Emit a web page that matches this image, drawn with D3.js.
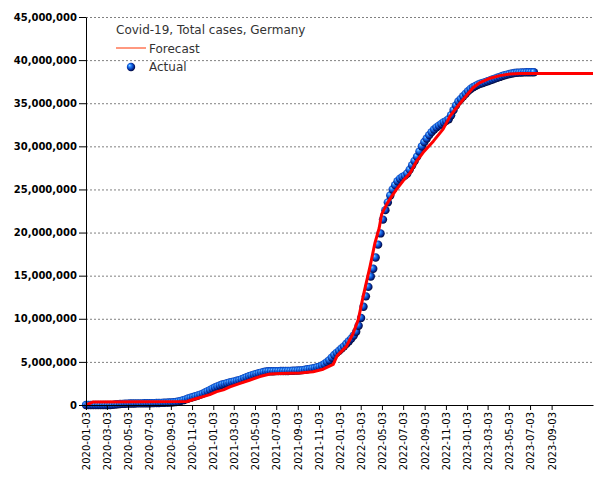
<!DOCTYPE html>
<html><head><meta charset="utf-8">
<script src="https://cdn.jsdelivr.net/npm/d3@7"></script>
<style>body{margin:0;background:#fff}svg{display:block}</style>
</head><body><svg id="c" width="605" height="480"></svg>
<script>
// ---- data ----
const actualStart = "2020-01-03";   // weekly observations
const actualValues = [
 0,0,0,0,0,0,0,0,0,1000,
 5000,20000,50000,80000,110000,130000,150000,160000,170000,175000,
 180000,185000,188000,192000,196000,200000,205000,212000,220000,230000,
 240000,250000,260000,270000,285000,300000,320000,350000,400000,480000,
 560000,650000,750000,850000,930000,1010000,1100000,1200000,1320000,1450000,
 1600000,1750000,1900000,2030000,2150000,2270000,2370000,2450000,2530000,2610000,
 2680000,2740000,2810000,2890000,2990000,3100000,3220000,3330000,3430000,3520000,
 3600000,3680000,3760000,3820000,3880000,3910000,3920000,3920000,3930000,3930000,
 3935000,3940000,3945000,3950000,3960000,3970000,3985000,4000000,4020000,4050000,
 4090000,4140000,4190000,4240000,4300000,4370000,4450000,4580000,4750000,4970000,
 5200000,5500000,5800000,6050000,6300000,6550000,6800000,7100000,7400000,7700000,
 8050000,8500000,9200000,10100000,11400000,12600000,13700000,14900000,15800000,17100000,
 18600000,19900000,21500000,22600000,23500000,24300000,25000000,25500000,25950000,26250000,
 26450000,26600000,26850000,27300000,27800000,28300000,28800000,29400000,30000000,30500000,
 30900000,31300000,31650000,31950000,32200000,32400000,32600000,32800000,32950000,33150000,
 33600000,34200000,34750000,35200000,35500000,35800000,36100000,36400000,36650000,36850000,
 37000000,37150000,37250000,37350000,37450000,37550000,37650000,37750000,37850000,37950000,
 38050000,38150000,38250000,38320000,38390000,38450000,38500000,38530000,38550000,38570000,
 38580000,38590000,38600000,38600000,38600000
];
const forecastDates = [
 "2020-01-03","2020-01-24","2020-10-19","2020-11-16","2020-12-05","2020-12-24",
 "2021-01-13","2021-02-01","2021-02-20","2021-03-21","2021-04-19","2021-05-17",
 "2021-06-15","2021-07-14","2021-09-09","2021-10-17","2021-11-15","2021-12-14",
 "2021-12-25","2022-01-21","2022-01-31","2022-02-09","2022-02-24","2022-03-10",
 "2022-03-30","2022-04-13","2022-04-25","2022-05-02","2022-05-17","2022-05-31",
 "2022-06-14","2022-07-03","2022-07-23","2022-08-11","2022-08-30","2022-09-28",
 "2022-10-26","2022-11-15","2022-12-04","2022-12-28","2023-01-20","2023-02-09",
 "2023-03-10","2023-04-07","2023-05-06","2023-06-04","2023-12-31"
];
const forecastValues = [
 0,350000,400000,750000,970000,1200000,
 1550000,1750000,2100000,2500000,2900000,3300000,
 3600000,3650000,3700000,3850000,4150000,4700000,
 5700000,6800000,7600000,8300000,9900000,12600000,
 16100000,18800000,20500000,22100000,23300000,24200000,
 25000000,26000000,26900000,28300000,29300000,30600000,
 32000000,33500000,34500000,35700000,36800000,37400000,
 37900000,38200000,38400000,38450000,38450000
];
const xTickLabels = [
 "2020-01-03","2020-03-03","2020-05-03","2020-07-03","2020-09-03","2020-11-03",
 "2021-01-03","2021-03-03","2021-05-03","2021-07-03","2021-09-03","2021-11-03",
 "2022-01-03","2022-03-03","2022-05-03","2022-07-03","2022-09-03","2022-11-03",
 "2023-01-03","2023-03-03","2023-05-03","2023-07-03","2023-09-03"
];
const yTickValues = [0,5e6,10e6,15e6,20e6,25e6,30e6,35e6,40e6,45e6];
const xDomain = ["2020-01-03","2023-12-31"];
const legendTitle = "Covid-19, Total cases, Germany";
const seriesNames = ["Forecast","Actual"];

// ---- chart ----
const parse = d3.utcParse("%Y-%m-%d");
const svg = d3.select("#c");
const M = {left: 86, right: 593, top: 17, bottom: 405};
const x = d3.scaleUtc().domain(xDomain.map(parse)).range([M.left, M.right]);
const y = d3.scaleLinear().domain([0, 45e6]).range([M.bottom, M.top]);

const defs = svg.append("defs");
const grad = defs.append("radialGradient").attr("id","ball")
  .attr("cx","0.45").attr("cy","0.45").attr("r","0.6").attr("fx","0.32").attr("fy","0.3");
[[0,"#a8dcff"],[0.25,"#2f8cff"],[0.55,"#0a4bc8"],[0.8,"#041a70"],[1,"#000020"]]
  .forEach(([o,c]) => grad.append("stop").attr("offset",o).attr("stop-color",c));

// grid
svg.append("g").selectAll("line").data(yTickValues.filter(v => v > 0)).join("line")
  .attr("x1", M.left).attr("x2", M.right)
  .attr("y1", d => y(d) + 0.5).attr("y2", d => y(d) + 0.5)
  .attr("stroke", "#808080").attr("stroke-width", 1).attr("stroke-dasharray", "2,2");

// actual points
const startDate = parse(actualStart);
const actual = actualValues.map((v, i) => ({date: d3.utcDay.offset(startDate, 7 * i), value: v}));
svg.append("g").selectAll("circle").data(actual).join("circle")
  .attr("cx", d => x(d.date)).attr("cy", d => y(d.value)).attr("r", 4.2)
  .attr("fill", "url(#ball)");

// forecast line
const forecast = forecastDates.map((d, i) => ({date: parse(d), value: forecastValues[i]}));
svg.append("path").datum(forecast)
  .attr("fill", "none").attr("stroke", "#ff0000").attr("stroke-width", 3)
  .attr("stroke-linejoin", "round")
  .attr("d", d3.line().x(d => x(d.date)).y(d => y(d.value)));

// axes
const yAxis = svg.append("g").attr("transform", `translate(${M.left},0)`)
  .call(d3.axisLeft(y).tickValues(yTickValues).tickFormat(d3.format(",")).tickSize(7).tickPadding(2).tickSizeOuter(0));
yAxis.selectAll("text").attr("font-family", "DejaVu Sans").attr("font-size", 10)
  .attr("font-weight", "bold").attr("fill", "#000");
yAxis.selectAll("line,path").attr("stroke", "#000");

const xAxis = svg.append("g").attr("transform", `translate(0,${M.bottom})`)
  .call(d3.axisBottom(x).tickValues(xTickLabels.map(parse)).tickFormat(d3.utcFormat("%Y-%m-%d")).tickSize(5).tickSizeOuter(0));
xAxis.selectAll("line,path").attr("stroke", "#000");
xAxis.selectAll("text").attr("font-family", "DejaVu Sans").attr("font-size", 10).attr("fill", "#000")
  .attr("transform", "rotate(-90)").attr("text-anchor", "end")
  .attr("x", -7).attr("y", 0).attr("dy", "0.35em");

// legend
const lg = svg.append("g").attr("font-family", "DejaVu Sans").attr("font-size", 12).attr("fill", "#333");
lg.append("text").attr("x", 116).attr("y", 34).text(legendTitle);
lg.append("line").attr("x1", 116).attr("x2", 146).attr("y1", 48).attr("y2", 48)
  .attr("stroke", "#ff3300").attr("stroke-width", 1);
lg.append("text").attr("x", 149).attr("y", 53).text(seriesNames[0]);
lg.append("circle").attr("cx", 131).attr("cy", 67).attr("r", 4.2).attr("fill", "url(#ball)");
lg.append("text").attr("x", 149).attr("y", 71).text(seriesNames[1]);
</script></body></html>
